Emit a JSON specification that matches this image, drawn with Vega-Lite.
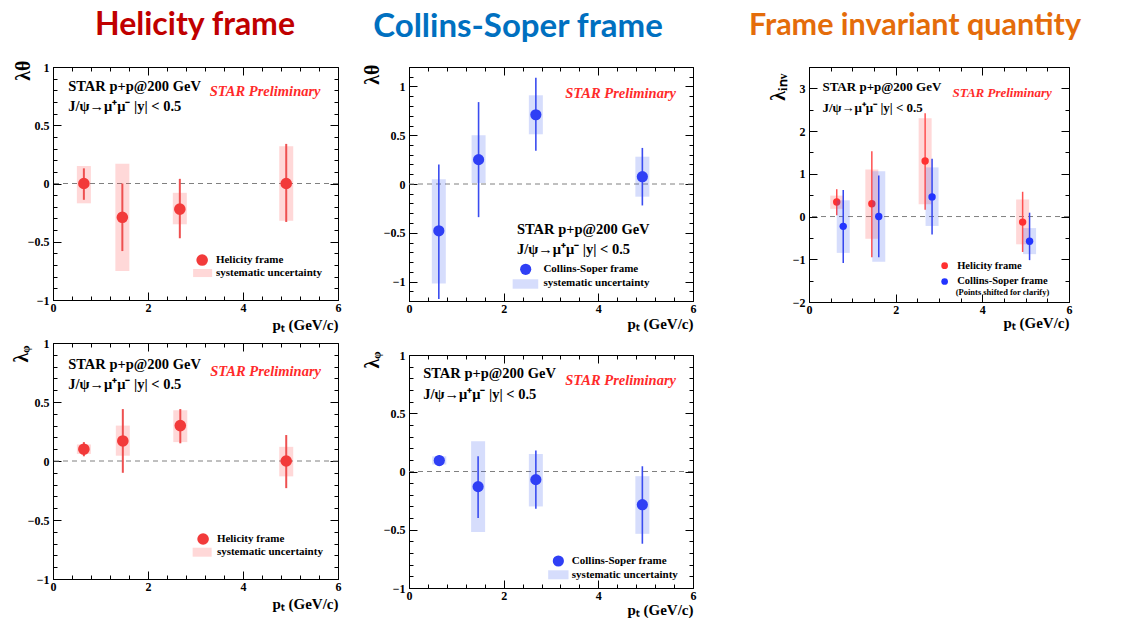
{
"$schema": "https://vega.github.io/schema/vega-lite/v6.json",
"background": "white",
"padding": {"left": 10, "top": 8, "right": 5, "bottom": 0},
"config": {
 "view": {"stroke": "black", "strokeWidth": 1},
 "scale": {"continuousPadding": 0},
 "axis": {"labelFont": "Liberation Serif", "labelFontWeight": "bold", "labelFontSize": 12, "labelColor": "black", "tickColor": "black", "tickWidth": 1, "domainColor": "black", "domainWidth": 1, "grid": false, "titleFont": "Liberation Serif", "titleFontWeight": "bold", "titleColor": "black", "titlePadding": 0, "format": "~g"},
 "text": {"font": "Liberation Serif", "fontWeight": "bold"}
},
"datasets": {
 "ht": [
  {"pt": 0.65, "val": 0.0, "stat_lo": -0.14, "stat_hi": 0.13, "sys_lo": -0.17, "sys_hi": 0.15},
  {"pt": 1.46, "val": -0.29, "stat_lo": -0.58, "stat_hi": 0.0, "sys_lo": -0.75, "sys_hi": 0.17},
  {"pt": 2.67, "val": -0.22, "stat_lo": -0.47, "stat_hi": 0.04, "sys_lo": -0.35, "sys_hi": -0.08},
  {"pt": 4.91, "val": 0.0, "stat_lo": -0.33, "stat_hi": 0.34, "sys_lo": -0.32, "sys_hi": 0.32}
 ],
 "ct": [
  {"pt": 0.63, "val": -0.48, "stat_lo": -1.18, "stat_hi": 0.2, "sys_lo": -1.02, "sys_hi": 0.05},
  {"pt": 1.47, "val": 0.25, "stat_lo": -0.34, "stat_hi": 0.84, "sys_lo": 0.01, "sys_hi": 0.5},
  {"pt": 2.68, "val": 0.71, "stat_lo": 0.34, "stat_hi": 1.09, "sys_lo": 0.51, "sys_hi": 0.91},
  {"pt": 4.93, "val": 0.075, "stat_lo": -0.22, "stat_hi": 0.37, "sys_lo": -0.13, "sys_hi": 0.28}
 ],
 "hi": [
  {"pt": 0.64, "val": 0.34, "stat_lo": 0.03, "stat_hi": 0.64, "sys_lo": 0.18, "sys_hi": 0.49},
  {"pt": 1.45, "val": 0.3, "stat_lo": -0.95, "stat_hi": 1.53, "sys_lo": -0.52, "sys_hi": 1.1},
  {"pt": 2.68, "val": 1.3, "stat_lo": 0.16, "stat_hi": 2.42, "sys_lo": 0.29, "sys_hi": 2.3},
  {"pt": 4.93, "val": -0.13, "stat_lo": -0.83, "stat_hi": 0.58, "sys_lo": -0.65, "sys_hi": 0.4}
 ],
 "ci": [
  {"pt": 0.79, "val": -0.23, "stat_lo": -1.09, "stat_hi": 0.62, "sys_lo": -0.85, "sys_hi": 0.38},
  {"pt": 1.61, "val": 0.0, "stat_lo": -0.95, "stat_hi": 0.96, "sys_lo": -1.06, "sys_hi": 1.06},
  {"pt": 2.84, "val": 0.46, "stat_lo": -0.42, "stat_hi": 1.35, "sys_lo": -0.22, "sys_hi": 1.15},
  {"pt": 5.09, "val": -0.58, "stat_lo": -1.02, "stat_hi": 0.09, "sys_lo": -0.88, "sys_hi": -0.27}
 ],
 "hp": [
  {"pt": 0.65, "val": 0.1, "stat_lo": 0.04, "stat_hi": 0.16, "sys_lo": 0.06, "sys_hi": 0.14},
  {"pt": 1.47, "val": 0.17, "stat_lo": -0.1, "stat_hi": 0.44, "sys_lo": 0.045, "sys_hi": 0.3},
  {"pt": 2.68, "val": 0.3, "stat_lo": 0.15, "stat_hi": 0.44, "sys_lo": 0.16, "sys_hi": 0.43},
  {"pt": 4.91, "val": 0.0, "stat_lo": -0.23, "stat_hi": 0.22, "sys_lo": -0.13, "sys_hi": 0.12}
 ],
 "cp": [
  {"pt": 0.64, "val": 0.094, "stat_lo": 0.05, "stat_hi": 0.14, "sys_lo": 0.06, "sys_hi": 0.13},
  {"pt": 1.46, "val": -0.13, "stat_lo": -0.4, "stat_hi": 0.13, "sys_lo": -0.52, "sys_hi": 0.26},
  {"pt": 2.68, "val": -0.07, "stat_lo": -0.32, "stat_hi": 0.18, "sys_lo": -0.3, "sys_hi": 0.15},
  {"pt": 4.93, "val": -0.285, "stat_lo": -0.62, "stat_hi": 0.045, "sys_lo": -0.535, "sys_hi": -0.04}
 ]
},
"spacing": 51,
"hconcat": [
 {"spacing": 19, "hconcat": [
  {"spacing": 3, "vconcat": [
   {"width": 285, "height": 233,
    "resolve": {"axis": {"x": "independent", "y": "independent"}},
    "layer": [
     {"data": {"values": [{}]}, "mark": {"type": "rule", "strokeDash": [5, 4], "color": "#808080", "strokeWidth": 1}, "encoding": {"y": {"datum": 0, "type": "quantitative", "axis": null}}},
     {"data": {"name": "ht"}, "mark": {"type": "bar", "width": 14, "color": "#FF4D4D", "opacity": 0.22}, "encoding": {
       "x": {"field": "pt", "type": "quantitative", "scale": {"domain": [0, 6], "nice": false, "zero": false, "padding": 0},
        "axis": {"orient": "bottom", "values": [0,0.4,0.8,1.2,1.6,2,2.4,2.8,3.2,3.6,4,4.4,4.8,5.2,5.6,6], "labelExpr": "abs(datum.value/2-round(datum.value/2))<0.000001 ? datum.label : ''", "tickSize": {"condition": {"test": "abs(datum.value/2-round(datum.value/2))<0.000001", "value": -8}, "value": -4}, "labelPadding": 10, "labelFlush": false, "labelOverlap": false, "title": "pₜ (GeV/c)", "titleAnchor": "end", "titleBaseline": "alphabetic", "titleY": 29, "titleFontSize": 15}},
       "y": {"field": "sys_lo", "type": "quantitative", "scale": {"domain": [-1, 1], "nice": false, "zero": false},
        "axis": {"orient": "left", "values": [-1,-0.9,-0.8,-0.7,-0.6,-0.5,-0.4,-0.3,-0.2,-0.1,0,0.1,0.2,0.3,0.4,0.5,0.6,0.7,0.8,0.9,1], "labelExpr": "abs(datum.value*2-round(datum.value*2))<0.000001 ? datum.label : ''", "tickSize": {"condition": {"test": "abs(datum.value*2-round(datum.value*2))<0.000001", "value": -8}, "value": -4}, "labelPadding": 12, "labelFlush": false, "labelOverlap": false, "title": "λθ", "titleAngle": 270, "titleAlign": "right", "titleBaseline": "alphabetic", "titleX": -24, "titleY": -7, "titleFontSize": 20}},
       "y2": {"field": "sys_hi"}}},
     {"data": {"name": "ht"}, "mark": {"type": "rule", "color": "#EE5050", "strokeWidth": 2}, "encoding": {
       "x": {"field": "pt", "type": "quantitative", "axis": {"orient": "top", "values": [0,0.4,0.8,1.2,1.6,2,2.4,2.8,3.2,3.6,4,4.4,4.8,5.2,5.6,6], "labels": false, "domain": false, "title": null, "tickSize": {"condition": {"test": "abs(datum.value/2-round(datum.value/2))<0.000001", "value": -8}, "value": -4}}},
       "y": {"field": "stat_lo", "type": "quantitative", "axis": {"orient": "right", "values": [-1,-0.9,-0.8,-0.7,-0.6,-0.5,-0.4,-0.3,-0.2,-0.1,0,0.1,0.2,0.3,0.4,0.5,0.6,0.7,0.8,0.9,1], "labels": false, "domain": false, "title": null, "tickSize": {"condition": {"test": "abs(datum.value*2-round(datum.value*2))<0.000001", "value": -8}, "value": -4}}},
       "y2": {"field": "stat_hi"}}},
     {"data": {"name": "ht"}, "mark": {"type": "point", "filled": true, "shape": "circle", "size": 135, "color": "#F23A3A", "opacity": 1}, "encoding": {
       "x": {"field": "pt", "type": "quantitative", "axis": null},
       "y": {"field": "val", "type": "quantitative", "axis": null}}},
     {"data": {"values": [{}]}, "mark": {"type": "text", "text": "Helicity frame", "font": "Lato", "fontSize": 32, "fontWeight": "bold", "color": "#C00000", "align": "center", "baseline": "alphabetic"}, "encoding": {"x": {"datum": 2.99, "type": "quantitative", "axis": null}, "y": {"datum": 1.275, "type": "quantitative", "axis": null}}},
     {"data": {"values": [{}]}, "mark": {"type": "text", "text": "STAR p+p@200 GeV", "align": "left", "baseline": "middle", "fontSize": 14.5, "color": "black"}, "encoding": {"x": {"datum": 0.32, "type": "quantitative", "axis": null}, "y": {"datum": 0.83, "type": "quantitative", "axis": null}}},
     {"data": {"values": [{}]}, "mark": {"type": "text", "text": "J/ψ→μ⁺μ⁻  |y| < 0.5", "align": "left", "baseline": "middle", "fontSize": 14.5, "color": "black"}, "encoding": {"x": {"datum": 0.32, "type": "quantitative", "axis": null}, "y": {"datum": 0.66, "type": "quantitative", "axis": null}}},
     {"data": {"values": [{}]}, "mark": {"type": "text", "text": "STAR Preliminary", "align": "left", "baseline": "middle", "fontSize": 14.5, "fontStyle": "italic", "color": "#FF2A2A"}, "encoding": {"x": {"datum": 3.3, "type": "quantitative", "axis": null}, "y": {"datum": 0.785, "type": "quantitative", "axis": null}}},
     {"data": {"values": [{}]}, "mark": {"type": "rect", "color": "#FF4D4D", "opacity": 0.22}, "encoding": {"x": {"datum": 2.95, "type": "quantitative", "axis": null}, "x2": {"datum": 3.35}, "y": {"datum": -0.734, "type": "quantitative", "axis": null}, "y2": {"datum": -0.803}}},
     {"data": {"values": [{}]}, "mark": {"type": "point", "filled": true, "shape": "circle", "size": 135, "color": "#F23A3A", "opacity": 1}, "encoding": {"x": {"datum": 3.14, "type": "quantitative", "axis": null}, "y": {"datum": -0.657, "type": "quantitative", "axis": null}}},
     {"data": {"values": [{}]}, "mark": {"type": "text", "text": "Helicity frame", "align": "left", "baseline": "middle", "fontSize": 11, "color": "black"}, "encoding": {"x": {"datum": 3.43, "type": "quantitative", "axis": null}, "y": {"datum": -0.657, "type": "quantitative", "axis": null}}},
     {"data": {"values": [{}]}, "mark": {"type": "text", "text": "systematic uncertainty", "align": "left", "baseline": "middle", "fontSize": 11, "color": "black"}, "encoding": {"x": {"datum": 3.43, "type": "quantitative", "axis": null}, "y": {"datum": -0.768, "type": "quantitative", "axis": null}}}
    ]},
   {"width": 285, "height": 236,
    "resolve": {"axis": {"x": "independent", "y": "independent"}},
    "layer": [
     {"data": {"values": [{}]}, "mark": {"type": "rule", "strokeDash": [5, 4], "color": "#808080", "strokeWidth": 1}, "encoding": {"y": {"datum": 0, "type": "quantitative", "axis": null}}},
     {"data": {"name": "hp"}, "mark": {"type": "bar", "width": 14, "color": "#FF4D4D", "opacity": 0.22}, "encoding": {
       "x": {"field": "pt", "type": "quantitative", "scale": {"domain": [0, 6], "nice": false, "zero": false, "padding": 0},
        "axis": {"orient": "bottom", "values": [0,0.4,0.8,1.2,1.6,2,2.4,2.8,3.2,3.6,4,4.4,4.8,5.2,5.6,6], "labelExpr": "abs(datum.value/2-round(datum.value/2))<0.000001 ? datum.label : ''", "tickSize": {"condition": {"test": "abs(datum.value/2-round(datum.value/2))<0.000001", "value": -8}, "value": -4}, "labelPadding": 10, "labelFlush": false, "labelOverlap": false, "title": "pₜ (GeV/c)", "titleAnchor": "end", "titleBaseline": "alphabetic", "titleY": 29, "titleFontSize": 15}},
       "y": {"field": "sys_lo", "type": "quantitative", "scale": {"domain": [-1, 1], "nice": false, "zero": false},
        "axis": {"orient": "left", "values": [-1,-0.9,-0.8,-0.7,-0.6,-0.5,-0.4,-0.3,-0.2,-0.1,0,0.1,0.2,0.3,0.4,0.5,0.6,0.7,0.8,0.9,1], "labelExpr": "abs(datum.value*2-round(datum.value*2))<0.000001 ? datum.label : ''", "tickSize": {"condition": {"test": "abs(datum.value*2-round(datum.value*2))<0.000001", "value": -8}, "value": -4}, "labelPadding": 12, "labelFlush": false, "labelOverlap": false, "title": "λᵩ", "titleAngle": 270, "titleAlign": "right", "titleBaseline": "alphabetic", "titleX": -26, "titleY": 2, "titleFontSize": 20}},
       "y2": {"field": "sys_hi"}}},
     {"data": {"name": "hp"}, "mark": {"type": "rule", "color": "#EE5050", "strokeWidth": 2}, "encoding": {
       "x": {"field": "pt", "type": "quantitative", "axis": {"orient": "top", "values": [0,0.4,0.8,1.2,1.6,2,2.4,2.8,3.2,3.6,4,4.4,4.8,5.2,5.6,6], "labels": false, "domain": false, "title": null, "tickSize": {"condition": {"test": "abs(datum.value/2-round(datum.value/2))<0.000001", "value": -8}, "value": -4}}},
       "y": {"field": "stat_lo", "type": "quantitative", "axis": {"orient": "right", "values": [-1,-0.9,-0.8,-0.7,-0.6,-0.5,-0.4,-0.3,-0.2,-0.1,0,0.1,0.2,0.3,0.4,0.5,0.6,0.7,0.8,0.9,1], "labels": false, "domain": false, "title": null, "tickSize": {"condition": {"test": "abs(datum.value*2-round(datum.value*2))<0.000001", "value": -8}, "value": -4}}},
       "y2": {"field": "stat_hi"}}},
     {"data": {"name": "hp"}, "mark": {"type": "point", "filled": true, "shape": "circle", "size": 135, "color": "#F23A3A", "opacity": 1}, "encoding": {
       "x": {"field": "pt", "type": "quantitative", "axis": null},
       "y": {"field": "val", "type": "quantitative", "axis": null}}},
     {"data": {"values": [{}]}, "mark": {"type": "text", "text": "STAR p+p@200 GeV", "align": "left", "baseline": "middle", "fontSize": 14.5, "color": "black"}, "encoding": {"x": {"datum": 0.32, "type": "quantitative", "axis": null}, "y": {"datum": 0.814, "type": "quantitative", "axis": null}}},
     {"data": {"values": [{}]}, "mark": {"type": "text", "text": "J/ψ→μ⁺μ⁻  |y| < 0.5", "align": "left", "baseline": "middle", "fontSize": 14.5, "color": "black"}, "encoding": {"x": {"datum": 0.32, "type": "quantitative", "axis": null}, "y": {"datum": 0.644, "type": "quantitative", "axis": null}}},
     {"data": {"values": [{}]}, "mark": {"type": "text", "text": "STAR Preliminary", "align": "left", "baseline": "middle", "fontSize": 14.5, "fontStyle": "italic", "color": "#FF2A2A"}, "encoding": {"x": {"datum": 3.31, "type": "quantitative", "axis": null}, "y": {"datum": 0.757, "type": "quantitative", "axis": null}}},
     {"data": {"values": [{}]}, "mark": {"type": "rect", "color": "#FF4D4D", "opacity": 0.22}, "encoding": {"x": {"datum": 2.94, "type": "quantitative", "axis": null}, "x2": {"datum": 3.34}, "y": {"datum": -0.735, "type": "quantitative", "axis": null}, "y2": {"datum": -0.811}}},
     {"data": {"values": [{}]}, "mark": {"type": "point", "filled": true, "shape": "circle", "size": 135, "color": "#F23A3A", "opacity": 1}, "encoding": {"x": {"datum": 3.16, "type": "quantitative", "axis": null}, "y": {"datum": -0.661, "type": "quantitative", "axis": null}}},
     {"data": {"values": [{}]}, "mark": {"type": "text", "text": "Helicity frame", "align": "left", "baseline": "middle", "fontSize": 11, "color": "black"}, "encoding": {"x": {"datum": 3.45, "type": "quantitative", "axis": null}, "y": {"datum": -0.661, "type": "quantitative", "axis": null}}},
     {"data": {"values": [{}]}, "mark": {"type": "text", "text": "systematic uncertainty", "align": "left", "baseline": "middle", "fontSize": 11, "color": "black"}, "encoding": {"x": {"datum": 3.45, "type": "quantitative", "axis": null}, "y": {"datum": -0.774, "type": "quantitative", "axis": null}}}
    ]}
  ]},
  {"spacing": 16, "vconcat": [
   {"width": 284, "height": 234,
    "resolve": {"axis": {"x": "independent", "y": "independent"}},
    "layer": [
     {"data": {"values": [{}]}, "mark": {"type": "rule", "strokeDash": [5, 4], "color": "#808080", "strokeWidth": 1}, "encoding": {"y": {"datum": 0, "type": "quantitative", "axis": null}}},
     {"data": {"name": "ct"}, "mark": {"type": "bar", "width": 14, "color": "#3355EE", "opacity": 0.2}, "encoding": {
       "x": {"field": "pt", "type": "quantitative", "scale": {"domain": [0, 6], "nice": false, "zero": false, "padding": 0},
        "axis": {"orient": "bottom", "values": [0,0.4,0.8,1.2,1.6,2,2.4,2.8,3.2,3.6,4,4.4,4.8,5.2,5.6,6], "labelExpr": "abs(datum.value/2-round(datum.value/2))<0.000001 ? datum.label : ''", "tickSize": {"condition": {"test": "abs(datum.value/2-round(datum.value/2))<0.000001", "value": -8}, "value": -4}, "labelPadding": 10, "labelFlush": false, "labelOverlap": false, "title": "pₜ (GeV/c)", "titleAnchor": "end", "titleBaseline": "alphabetic", "titleY": 27, "titleFontSize": 15}},
       "y": {"field": "sys_lo", "type": "quantitative", "scale": {"domain": [-1.2, 1.2], "nice": false, "zero": false},
        "axis": {"orient": "left", "values": [-1.2,-1.1,-1,-0.9,-0.8,-0.7,-0.6,-0.5,-0.4,-0.3,-0.2,-0.1,0,0.1,0.2,0.3,0.4,0.5,0.6,0.7,0.8,0.9,1,1.1,1.2], "labelExpr": "abs(datum.value*2-round(datum.value*2))<0.000001 ? datum.label : ''", "tickSize": {"condition": {"test": "abs(datum.value*2-round(datum.value*2))<0.000001", "value": -8}, "value": -4}, "labelPadding": 12, "labelFlush": false, "labelOverlap": false, "title": "λθ", "titleAngle": 270, "titleAlign": "right", "titleBaseline": "alphabetic", "titleX": -31, "titleY": -3, "titleFontSize": 20}},
       "y2": {"field": "sys_hi"}}},
     {"data": {"name": "ct"}, "mark": {"type": "rule", "color": "#3A4CF0", "strokeWidth": 1.6}, "encoding": {
       "x": {"field": "pt", "type": "quantitative", "axis": {"orient": "top", "values": [0,0.4,0.8,1.2,1.6,2,2.4,2.8,3.2,3.6,4,4.4,4.8,5.2,5.6,6], "labels": false, "domain": false, "title": null, "tickSize": {"condition": {"test": "abs(datum.value/2-round(datum.value/2))<0.000001", "value": -8}, "value": -4}}},
       "y": {"field": "stat_lo", "type": "quantitative", "axis": {"orient": "right", "values": [-1.2,-1.1,-1,-0.9,-0.8,-0.7,-0.6,-0.5,-0.4,-0.3,-0.2,-0.1,0,0.1,0.2,0.3,0.4,0.5,0.6,0.7,0.8,0.9,1,1.1,1.2], "labels": false, "domain": false, "title": null, "tickSize": {"condition": {"test": "abs(datum.value*2-round(datum.value*2))<0.000001", "value": -8}, "value": -4}}},
       "y2": {"field": "stat_hi"}}},
     {"data": {"name": "ct"}, "mark": {"type": "point", "filled": true, "shape": "circle", "size": 125, "color": "#2F3FF5", "opacity": 1}, "encoding": {
       "x": {"field": "pt", "type": "quantitative", "axis": null},
       "y": {"field": "val", "type": "quantitative", "axis": null}}},
     {"data": {"values": [{}]}, "mark": {"type": "text", "text": "Collins-Soper frame", "font": "Lato", "fontSize": 33, "fontWeight": "bold", "color": "#0070C0", "align": "center", "baseline": "alphabetic"}, "encoding": {"x": {"datum": 2.303, "type": "quantitative", "axis": null}, "y": {"datum": 1.508, "type": "quantitative", "axis": null}}},
     {"data": {"values": [{}]}, "mark": {"type": "text", "text": "STAR p+p@200 GeV", "align": "left", "baseline": "middle", "fontSize": 14.5, "color": "black"}, "encoding": {"x": {"datum": 2.28, "type": "quantitative", "axis": null}, "y": {"datum": -0.475, "type": "quantitative", "axis": null}}},
     {"data": {"values": [{}]}, "mark": {"type": "text", "text": "J/ψ→μ⁺μ⁻  |y| < 0.5", "align": "left", "baseline": "middle", "fontSize": 14.5, "color": "black"}, "encoding": {"x": {"datum": 2.28, "type": "quantitative", "axis": null}, "y": {"datum": -0.68, "type": "quantitative", "axis": null}}},
     {"data": {"values": [{}]}, "mark": {"type": "text", "text": "STAR Preliminary", "align": "left", "baseline": "middle", "fontSize": 14.5, "fontStyle": "italic", "color": "#FF2A2A"}, "encoding": {"x": {"datum": 3.3, "type": "quantitative", "axis": null}, "y": {"datum": 0.92, "type": "quantitative", "axis": null}}},
     {"data": {"values": [{}]}, "mark": {"type": "rect", "color": "#3355EE", "opacity": 0.2}, "encoding": {"x": {"datum": 2.19, "type": "quantitative", "axis": null}, "x2": {"datum": 2.73}, "y": {"datum": -0.977, "type": "quantitative", "axis": null}, "y2": {"datum": -1.074}}},
     {"data": {"values": [{}]}, "mark": {"type": "point", "filled": true, "shape": "circle", "size": 125, "color": "#2F3FF5", "opacity": 1}, "encoding": {"x": {"datum": 2.465, "type": "quantitative", "axis": null}, "y": {"datum": -0.875, "type": "quantitative", "axis": null}}},
     {"data": {"values": [{}]}, "mark": {"type": "text", "text": "Collins-Soper frame", "align": "left", "baseline": "middle", "fontSize": 11, "color": "black"}, "encoding": {"x": {"datum": 2.84, "type": "quantitative", "axis": null}, "y": {"datum": -0.875, "type": "quantitative", "axis": null}}},
     {"data": {"values": [{}]}, "mark": {"type": "text", "text": "systematic uncertainty", "align": "left", "baseline": "middle", "fontSize": 11, "color": "black"}, "encoding": {"x": {"datum": 2.84, "type": "quantitative", "axis": null}, "y": {"datum": -1.02, "type": "quantitative", "axis": null}}}
    ]},
   {"width": 284, "height": 233,
    "resolve": {"axis": {"x": "independent", "y": "independent"}},
    "layer": [
     {"data": {"values": [{}]}, "mark": {"type": "rule", "strokeDash": [5, 4], "color": "#808080", "strokeWidth": 1}, "encoding": {"y": {"datum": 0, "type": "quantitative", "axis": null}}},
     {"data": {"name": "cp"}, "mark": {"type": "bar", "width": 14, "color": "#3355EE", "opacity": 0.2}, "encoding": {
       "x": {"field": "pt", "type": "quantitative", "scale": {"domain": [0, 6], "nice": false, "zero": false, "padding": 0},
        "axis": {"orient": "bottom", "values": [0,0.4,0.8,1.2,1.6,2,2.4,2.8,3.2,3.6,4,4.4,4.8,5.2,5.6,6], "labelExpr": "abs(datum.value/2-round(datum.value/2))<0.000001 ? datum.label : ''", "tickSize": {"condition": {"test": "abs(datum.value/2-round(datum.value/2))<0.000001", "value": -8}, "value": -4}, "labelPadding": 10, "labelFlush": false, "labelOverlap": false, "title": "pₜ (GeV/c)", "titleAnchor": "end", "titleBaseline": "alphabetic", "titleY": 26, "titleFontSize": 15}},
       "y": {"field": "sys_lo", "type": "quantitative", "scale": {"domain": [-1, 1], "nice": false, "zero": false},
        "axis": {"orient": "left", "values": [-1,-0.9,-0.8,-0.7,-0.6,-0.5,-0.4,-0.3,-0.2,-0.1,0,0.1,0.2,0.3,0.4,0.5,0.6,0.7,0.8,0.9,1], "labelExpr": "abs(datum.value*2-round(datum.value*2))<0.000001 ? datum.label : ''", "tickSize": {"condition": {"test": "abs(datum.value*2-round(datum.value*2))<0.000001", "value": -8}, "value": -4}, "labelPadding": 12, "labelFlush": false, "labelOverlap": false, "title": "λᵩ", "titleAngle": 270, "titleAlign": "right", "titleBaseline": "alphabetic", "titleX": -31, "titleY": -4, "titleFontSize": 20}},
       "y2": {"field": "sys_hi"}}},
     {"data": {"name": "cp"}, "mark": {"type": "rule", "color": "#3A4CF0", "strokeWidth": 1.6}, "encoding": {
       "x": {"field": "pt", "type": "quantitative", "axis": {"orient": "top", "values": [0,0.4,0.8,1.2,1.6,2,2.4,2.8,3.2,3.6,4,4.4,4.8,5.2,5.6,6], "labels": false, "domain": false, "title": null, "tickSize": {"condition": {"test": "abs(datum.value/2-round(datum.value/2))<0.000001", "value": -8}, "value": -4}}},
       "y": {"field": "stat_lo", "type": "quantitative", "axis": {"orient": "right", "values": [-1,-0.9,-0.8,-0.7,-0.6,-0.5,-0.4,-0.3,-0.2,-0.1,0,0.1,0.2,0.3,0.4,0.5,0.6,0.7,0.8,0.9,1], "labels": false, "domain": false, "title": null, "tickSize": {"condition": {"test": "abs(datum.value*2-round(datum.value*2))<0.000001", "value": -8}, "value": -4}}},
       "y2": {"field": "stat_hi"}}},
     {"data": {"name": "cp"}, "mark": {"type": "point", "filled": true, "shape": "circle", "size": 125, "color": "#2F3FF5", "opacity": 1}, "encoding": {
       "x": {"field": "pt", "type": "quantitative", "axis": null},
       "y": {"field": "val", "type": "quantitative", "axis": null}}},
     {"data": {"values": [{}]}, "mark": {"type": "text", "text": "STAR p+p@200 GeV", "align": "left", "baseline": "middle", "fontSize": 14.5, "color": "black"}, "encoding": {"x": {"datum": 0.3, "type": "quantitative", "axis": null}, "y": {"datum": 0.834, "type": "quantitative", "axis": null}}},
     {"data": {"values": [{}]}, "mark": {"type": "text", "text": "J/ψ→μ⁺μ⁻  |y| < 0.5", "align": "left", "baseline": "middle", "fontSize": 14.5, "color": "black"}, "encoding": {"x": {"datum": 0.3, "type": "quantitative", "axis": null}, "y": {"datum": 0.657, "type": "quantitative", "axis": null}}},
     {"data": {"values": [{}]}, "mark": {"type": "text", "text": "STAR Preliminary", "align": "left", "baseline": "middle", "fontSize": 14.5, "fontStyle": "italic", "color": "#FF2A2A"}, "encoding": {"x": {"datum": 3.3, "type": "quantitative", "axis": null}, "y": {"datum": 0.777, "type": "quantitative", "axis": null}}},
     {"data": {"values": [{}]}, "mark": {"type": "rect", "color": "#3355EE", "opacity": 0.2}, "encoding": {"x": {"datum": 2.94, "type": "quantitative", "axis": null}, "x2": {"datum": 3.37}, "y": {"datum": -0.848, "type": "quantitative", "axis": null}, "y2": {"datum": -0.925}}},
     {"data": {"values": [{}]}, "mark": {"type": "point", "filled": true, "shape": "circle", "size": 125, "color": "#2F3FF5", "opacity": 1}, "encoding": {"x": {"datum": 3.155, "type": "quantitative", "axis": null}, "y": {"datum": -0.768, "type": "quantitative", "axis": null}}},
     {"data": {"values": [{}]}, "mark": {"type": "text", "text": "Collins-Soper frame", "align": "left", "baseline": "middle", "fontSize": 11, "color": "black"}, "encoding": {"x": {"datum": 3.44, "type": "quantitative", "axis": null}, "y": {"datum": -0.768, "type": "quantitative", "axis": null}}},
     {"data": {"values": [{}]}, "mark": {"type": "text", "text": "systematic uncertainty", "align": "left", "baseline": "middle", "fontSize": 11, "color": "black"}, "encoding": {"x": {"datum": 3.44, "type": "quantitative", "axis": null}, "y": {"datum": -0.888, "type": "quantitative", "axis": null}}}
    ]}
  ]}
 ]},
 {"vconcat": [
  {"width": 260, "height": 235,
  "resolve": {"axis": {"x": "independent", "y": "independent"}},
  "layer": [
   {"data": {"values": [{}]}, "mark": {"type": "rule", "strokeDash": [5, 4], "color": "#808080", "strokeWidth": 1}, "encoding": {"y": {"datum": 0, "type": "quantitative", "axis": null}}},
   {"data": {"name": "hi"}, "mark": {"type": "bar", "width": 13, "color": "#FF4D4D", "opacity": 0.22}, "encoding": {
     "x": {"field": "pt", "type": "quantitative", "scale": {"domain": [0, 6], "nice": false, "zero": false, "padding": 0},
      "axis": {"orient": "bottom", "values": [0,0.5,1,1.5,2,2.5,3,3.5,4,4.5,5,5.5,6], "labelExpr": "abs(datum.value/2-round(datum.value/2))<0.000001 ? datum.label : ''", "tickSize": {"condition": {"test": "abs(datum.value/2-round(datum.value/2))<0.000001", "value": -8}, "value": -4}, "labelPadding": 10, "labelFlush": false, "labelOverlap": false, "title": "pₜ (GeV/c)", "titleAnchor": "end", "titleBaseline": "alphabetic", "titleY": 25, "titleFontSize": 15}},
     "y": {"field": "sys_lo", "type": "quantitative", "scale": {"domain": [-2, 3.5], "nice": false, "zero": false},
      "axis": {"orient": "left", "values": [-2,-1.5,-1,-0.5,0,0.5,1,1.5,2,2.5,3,3.5], "labelExpr": "abs(datum.value-round(datum.value))<0.000001 ? datum.label : ''", "tickSize": {"condition": {"test": "abs(datum.value-round(datum.value))<0.000001", "value": -8}, "value": -4}, "labelPadding": 12, "labelFlush": false, "labelOverlap": false, "title": "λᵢₙᵥ", "titleAngle": 270, "titleAlign": "right", "titleBaseline": "alphabetic", "titleX": -25, "titleY": 6, "titleFontSize": 20}},
     "y2": {"field": "sys_hi"}}},
   {"data": {"name": "hi"}, "mark": {"type": "rule", "color": "#FF5050", "strokeWidth": 1.5}, "encoding": {
     "x": {"field": "pt", "type": "quantitative", "axis": {"orient": "top", "values": [0,0.5,1,1.5,2,2.5,3,3.5,4,4.5,5,5.5,6], "labels": false, "domain": false, "title": null, "tickSize": {"condition": {"test": "abs(datum.value/2-round(datum.value/2))<0.000001", "value": -8}, "value": -4}}},
     "y": {"field": "stat_lo", "type": "quantitative", "axis": {"orient": "right", "values": [-2,-1.5,-1,-0.5,0,0.5,1,1.5,2,2.5,3,3.5], "labels": false, "domain": false, "title": null, "tickSize": {"condition": {"test": "abs(datum.value-round(datum.value))<0.000001", "value": -8}, "value": -4}}},
     "y2": {"field": "stat_hi"}}},
   {"data": {"name": "hi"}, "mark": {"type": "point", "filled": true, "shape": "circle", "size": 55, "color": "#FF3030", "opacity": 1}, "encoding": {
     "x": {"field": "pt", "type": "quantitative", "axis": null},
     "y": {"field": "val", "type": "quantitative", "axis": null}}},
   {"data": {"name": "ci"}, "mark": {"type": "bar", "width": 13, "color": "#3355EE", "opacity": 0.2}, "encoding": {
     "x": {"field": "pt", "type": "quantitative", "axis": null},
     "y": {"field": "sys_lo", "type": "quantitative", "axis": null},
     "y2": {"field": "sys_hi"}}},
   {"data": {"name": "ci"}, "mark": {"type": "rule", "color": "#3344EE", "strokeWidth": 1.5}, "encoding": {
     "x": {"field": "pt", "type": "quantitative", "axis": null},
     "y": {"field": "stat_lo", "type": "quantitative", "axis": null},
     "y2": {"field": "stat_hi"}}},
   {"data": {"name": "ci"}, "mark": {"type": "point", "filled": true, "shape": "circle", "size": 55, "color": "#2233FF", "opacity": 1}, "encoding": {
     "x": {"field": "pt", "type": "quantitative", "axis": null},
     "y": {"field": "val", "type": "quantitative", "axis": null}}},
   {"data": {"values": [{}]}, "mark": {"type": "text", "text": "Frame invariant quantity", "font": "Lato", "fontSize": 30.5, "fontWeight": "bold", "color": "#E46C0A", "align": "center", "baseline": "alphabetic"}, "encoding": {"x": {"datum": 2.446, "type": "quantitative", "axis": null}, "y": {"datum": 4.243, "type": "quantitative", "axis": null}}},
   {"data": {"values": [{}]}, "mark": {"type": "text", "text": "STAR p+p@200 GeV", "align": "left", "baseline": "middle", "fontSize": 13, "color": "black"}, "encoding": {"x": {"datum": 0.31, "type": "quantitative", "axis": null}, "y": {"datum": 3.04, "type": "quantitative", "axis": null}}},
   {"data": {"values": [{}]}, "mark": {"type": "text", "text": "J/ψ→μ⁺μ⁻  |y| < 0.5", "align": "left", "baseline": "middle", "fontSize": 13, "color": "black"}, "encoding": {"x": {"datum": 0.31, "type": "quantitative", "axis": null}, "y": {"datum": 2.55, "type": "quantitative", "axis": null}}},
   {"data": {"values": [{}]}, "mark": {"type": "text", "text": "STAR Preliminary", "align": "left", "baseline": "middle", "fontSize": 13, "fontStyle": "italic", "color": "#FF2A2A"}, "encoding": {"x": {"datum": 3.31, "type": "quantitative", "axis": null}, "y": {"datum": 2.88, "type": "quantitative", "axis": null}}},
   {"data": {"values": [{}]}, "mark": {"type": "point", "filled": true, "shape": "circle", "size": 45, "color": "#FF3030", "opacity": 1}, "encoding": {"x": {"datum": 3.13, "type": "quantitative", "axis": null}, "y": {"datum": -1.15, "type": "quantitative", "axis": null}}},
   {"data": {"values": [{}]}, "mark": {"type": "point", "filled": true, "shape": "circle", "size": 45, "color": "#2233FF", "opacity": 1}, "encoding": {"x": {"datum": 3.13, "type": "quantitative", "axis": null}, "y": {"datum": -1.52, "type": "quantitative", "axis": null}}},
   {"data": {"values": [{}]}, "mark": {"type": "text", "text": "Helicity frame", "align": "left", "baseline": "middle", "fontSize": 10.5, "color": "black"}, "encoding": {"x": {"datum": 3.42, "type": "quantitative", "axis": null}, "y": {"datum": -1.15, "type": "quantitative", "axis": null}}},
   {"data": {"values": [{}]}, "mark": {"type": "text", "text": "Collins-Soper frame", "align": "left", "baseline": "middle", "fontSize": 10.5, "color": "black"}, "encoding": {"x": {"datum": 3.42, "type": "quantitative", "axis": null}, "y": {"datum": -1.52, "type": "quantitative", "axis": null}}},
   {"data": {"values": [{}]}, "mark": {"type": "text", "text": "(Points shifted for clarify)", "align": "left", "baseline": "middle", "fontSize": 8.5, "color": "black"}, "encoding": {"x": {"datum": 3.385, "type": "quantitative", "axis": null}, "y": {"datum": -1.765, "type": "quantitative", "axis": null}}}
  ]}
 ]}
]
}
